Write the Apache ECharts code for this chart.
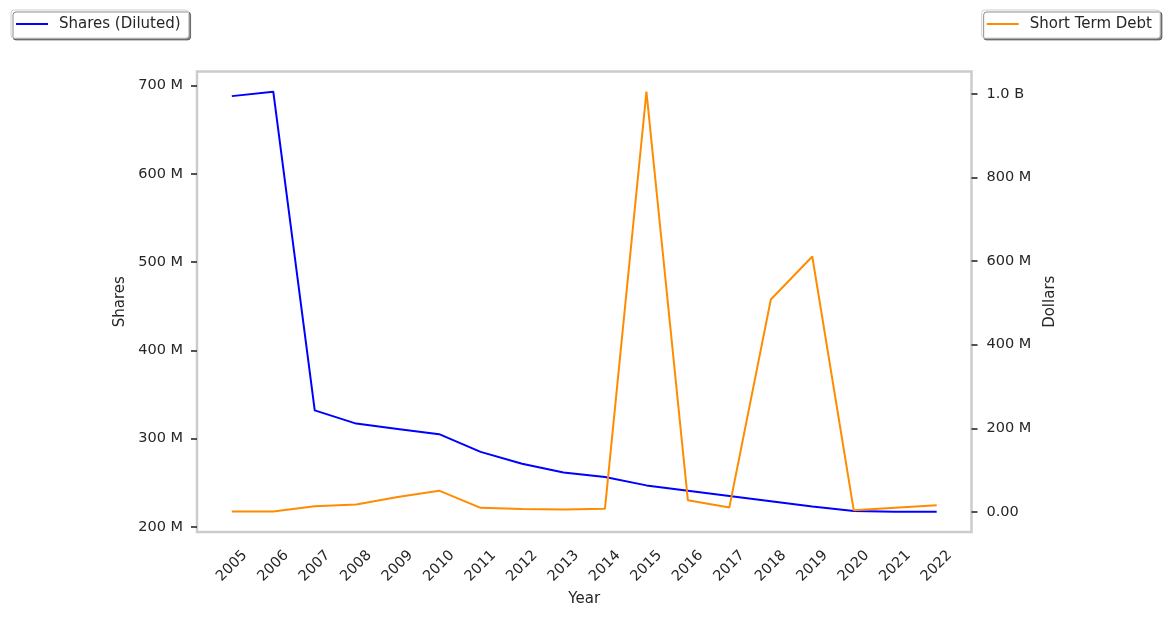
<!DOCTYPE html>
<html>
<head>
<meta charset="utf-8">
<script src="https://cdn.jsdelivr.net/npm/echarts@6/dist/echarts.min.js"></script>
<style>
  html, body { margin: 0; padding: 0; background: #fff; }
  #chart { width: 1169px; height: 618px; }
</style>
</head>
<body>
<div id="chart"></div>
<script>
// values (millions)
const years = [2005, 2006, 2007, 2008, 2009, 2010, 2011, 2012, 2013, 2014, 2015, 2016, 2017, 2018, 2019, 2020, 2021, 2022]
const sharesDiluted = [688, 693, 332, 317, 311, 305, 285, 271.5, 261.5, 256.5, 247, 241, 235, 229, 223, 218, 217, 217]
const shortTermDebt = [1, 1, 14, 18, 36, 51, 10, 7, 6, 8, 1005, 28, 11, 508, 611, 4, 10, 16]
const sharesTicks = [200, 300, 400, 500, 600, 700]
const dollarTicks = [0, 200, 400, 600, 800, 1000]

const textColor = '#262626'
const font = 'DejaVu Sans'

const fmtShares = (v) => v + ' M'
const fmtDollars = (v) => {
  if (v === 0) return '0.00'
  if (v >= 1000) return (v / 1000).toFixed(1) + ' B'
  return v + ' M'
}

const legendBox = {
  orient: 'vertical',
  top: 10,
  padding: [6, 8, 6, 5],
  icon: 'path://M0 0H32V2H0Z',
  itemWidth: 32,
  itemHeight: 2,
  backgroundColor: '#ffffff',
  borderColor: '#d0d0d0',
  borderWidth: 1,
  borderRadius: 3,
  shadowColor: 'rgba(0,0,0,0.45)',
  shadowBlur: 0,
  shadowOffsetX: 2,
  shadowOffsetY: 2,
  textStyle: { color: textColor, fontFamily: font, fontSize: 15, padding: [0, 0, 0, 6], lineHeight: 16 }
}

const chart = echarts.init(document.getElementById('chart'))
chart.setOption({
  animation: false,
  backgroundColor: '#ffffff',
  legend: [
    Object.assign({}, legendBox, { left: 11, data: ['Shares (Diluted)'] }),
    Object.assign({}, legendBox, { right: 9, data: ['Short Term Debt'] })
  ],
  grid: {
    left: 197,
    right: 197.5,
    top: 71.5,
    bottom: 86,
    show: true,
    borderColor: '#cccccc',
    borderWidth: 2.5,
    backgroundColor: 'transparent'
  },
  xAxis: {
    type: 'value',
    min: 2004.16,
    max: 2022.84,
    name: 'Year',
    nameLocation: 'middle',
    nameGap: 58,
    nameTextStyle: { color: textColor, fontFamily: font, fontSize: 15 },
    axisLine: { show: false },
    axisTick: { show: false },
    splitLine: { show: false },
    axisLabel: {
      customValues: years,
      rotate: 45,
      align: 'center',
      verticalAlign: 'middle',
      margin: 34,
      color: textColor,
      fontFamily: font,
      fontSize: 14.5,
      formatter: (v) => String(v)
    }
  },
  yAxis: [
    {
      type: 'value',
      position: 'left',
      min: 194.2,
      max: 715.9,
      name: 'Shares',
      nameLocation: 'middle',
      nameGap: 68,
      nameTextStyle: { color: textColor, fontFamily: font, fontSize: 15 },
      axisLine: { show: false },
      splitLine: { show: false },
      axisTick: {
        show: true,
        customValues: sharesTicks,
        length: 6,
        lineStyle: { color: textColor, width: 1.6 }
      },
      axisLabel: {
        customValues: sharesTicks,
        margin: 14,
        color: textColor,
        fontFamily: font,
        fontSize: 14.5,
        formatter: fmtShares
      }
    },
    {
      type: 'value',
      position: 'right',
      min: -47.8,
      max: 1053.3,
      name: 'Dollars',
      nameLocation: 'middle',
      nameGap: 64,
      nameTextStyle: { color: textColor, fontFamily: font, fontSize: 15 },
      axisLine: { show: false },
      splitLine: { show: false },
      axisTick: {
        show: true,
        customValues: dollarTicks,
        length: 6,
        lineStyle: { color: textColor, width: 1.6 }
      },
      axisLabel: {
        customValues: dollarTicks,
        margin: 15,
        color: textColor,
        fontFamily: font,
        fontSize: 14.5,
        formatter: fmtDollars
      }
    }
  ],
  series: [
    {
      name: 'Shares (Diluted)',
      type: 'line',
      yAxisIndex: 0,
      symbol: 'none',
      color: '#0000ff',
      lineStyle: { color: '#0000ff', width: 2 },
      data: years.map((y, i) => [y, sharesDiluted[i]])
    },
    {
      name: 'Short Term Debt',
      type: 'line',
      yAxisIndex: 1,
      symbol: 'none',
      color: '#ff8c00',
      lineStyle: { color: '#ff8c00', width: 2 },
      data: years.map((y, i) => [y, shortTermDebt[i]])
    }
  ]
})
</script>
</body>
</html>
